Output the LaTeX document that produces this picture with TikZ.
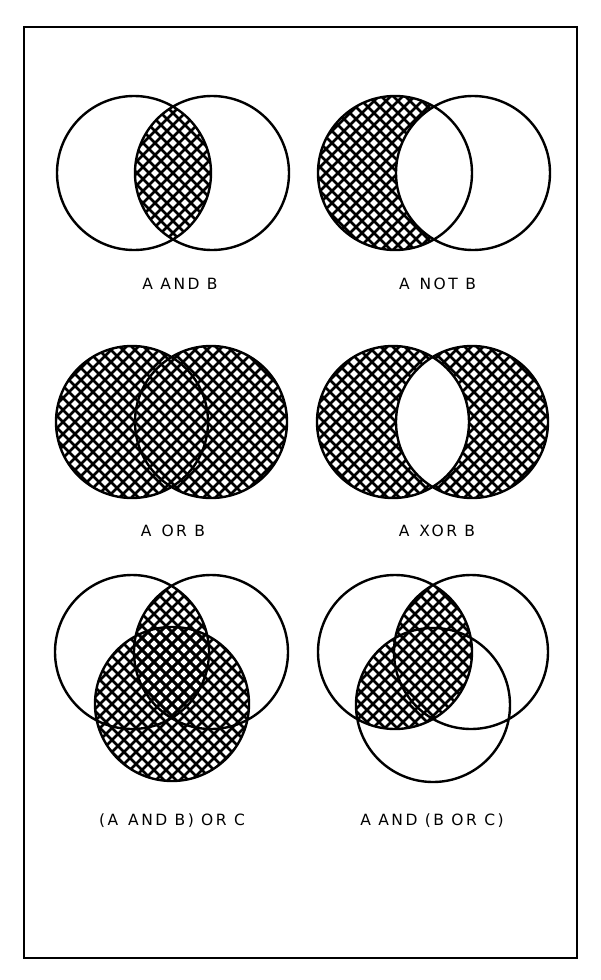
\documentclass[tikz,border=0pt]{standalone}
\usepackage{fontspec}
\newfontfamily\lab[LetterSpace=16]{DejaVu Sans}
\begin{document}
\begin{tikzpicture}[x=1pt,y=-1pt,
  ring/.style={line width=2.4pt},
  hatchline/.style={line width=2.5pt},
  caption/.style={font=\lab\fontsize{15.5}{16}\selectfont, inner sep=0pt, anchor=center}]
\newcommand\hatchbox[2]{%
  \foreach \c in {-204,-192,...,204}{%
    \draw[hatchline] (#1+\c-200,#2-200) -- (#1+\c+200,#2+200);
    \draw[hatchline] (#1+\c-200,#2+200) -- (#1+\c+200,#2-200);
  }}
\useasboundingbox (0,0) rectangle (600,980);
\draw[line width=2pt] (24,27) rectangle (577,958);

% ---- Panel 1: A AND B
\coordinate (p1a) at (134,173); \coordinate (p1b) at (212,173);
\begin{scope}
  \clip (p1a) circle (77); \clip (p1b) circle (77);
  \hatchbox{173}{173}
\end{scope}
\draw[ring] (p1a) circle (77) (p1b) circle (77);
\node[caption] (t1) at (180,283.5) {A AND B};

% ---- Panel 2: A NOT B
\coordinate (p2a) at (395,173); \coordinate (p2b) at (473,173);
\begin{scope}[even odd rule]
  \clip (p2a) circle (77);
  \clip (300,60) rectangle (580,300) (p2b) circle (77);
  \hatchbox{434}{173}
\end{scope}
\draw[ring] (p2a) circle (77) (p2b) circle (77);
\node[caption] (t2) at (437.5,283.5) {A\, NOT B};

% ---- Panel 3: A OR B
\coordinate (p3a) at (132,422); \coordinate (p3b) at (211,422);
\begin{scope}
  \clip (p3a) circle (76) (p3b) circle (76);
  \hatchbox{171}{422}
\end{scope}
\draw[ring] (p3a) circle (76) (p3b) circle (76);
\node[caption] (t3) at (173,531) {A\, OR B};

% ---- Panel 4: A XOR B
\coordinate (p4a) at (393,422); \coordinate (p4b) at (472,422);
\begin{scope}[even odd rule]
  \clip (p4a) circle (76) (p4b) circle (76);
  \hatchbox{432}{422}
\end{scope}
\draw[ring] (p4a) circle (76) (p4b) circle (76);
\node[caption] (t4) at (437,531) {A\, XOR B};

% ---- Panel 5: (A AND B) OR C
\coordinate (p5a) at (132,652); \coordinate (p5b) at (211,652);
\coordinate (p5c) at (172,704);
\begin{scope}
  \clip (p5a) circle (77); \clip (p5b) circle (77);
  \hatchbox{172}{680}
\end{scope}
\begin{scope}
  \clip (p5c) circle (77);
  \hatchbox{172}{680}
\end{scope}
\draw[ring] (p5a) circle (77) (p5b) circle (77) (p5c) circle (77);
\node[caption] (t5) at (172,821) {(A\, AND B) OR C};

% ---- Panel 6: A AND (B OR C)
\coordinate (p6a) at (395,652); \coordinate (p6b) at (471,652);
\coordinate (p6c) at (433,705);
\begin{scope}
  \clip (p6a) circle (77);
  \clip (p6b) circle (77) (p6c) circle (77);
  \hatchbox{433}{680}
\end{scope}
\draw[ring] (p6a) circle (77) (p6b) circle (77) (p6c) circle (77);
\node[caption] (t6) at (432,821) {A AND (B OR C)};
\end{tikzpicture}
\end{document}
